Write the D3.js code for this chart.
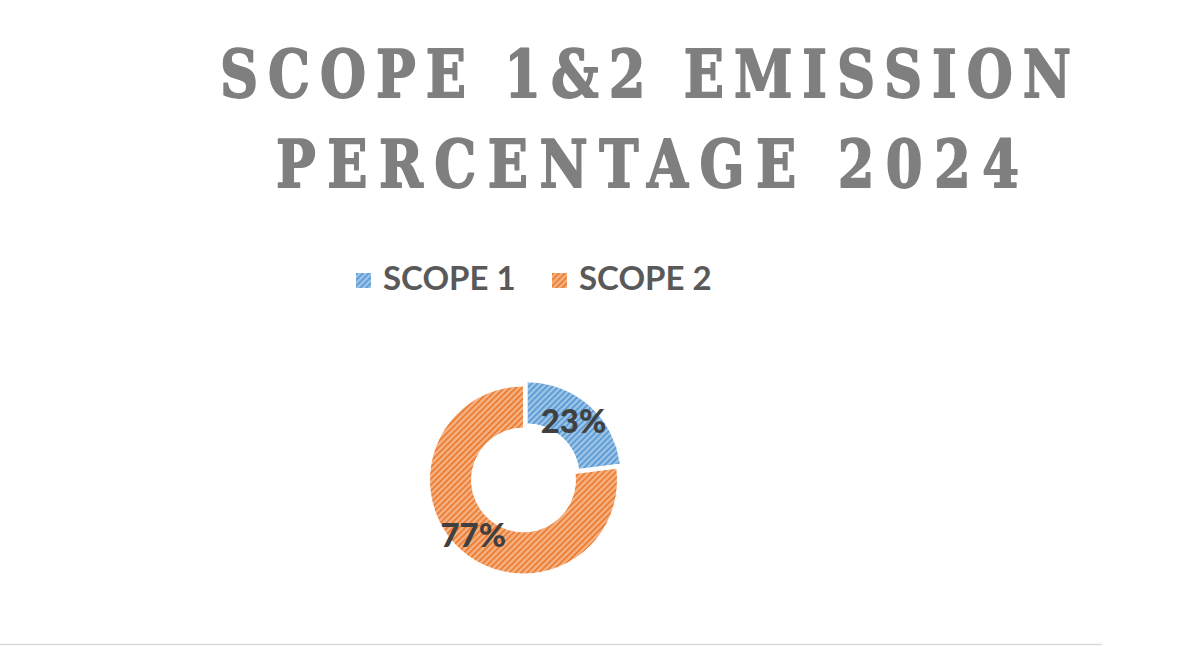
<!DOCTYPE html>
<html>
<head>
<meta charset="utf-8">
<script src="https://cdn.jsdelivr.net/npm/d3@7"></script>
<style>
  body { margin: 0; background: #fff; }
  svg { display: block; }
</style>
</head>
<body>
<svg id="chart" width="1200" height="646"></svg>
<script>
// chart values
const categories = ["SCOPE 1", "SCOPE 2"];
const shares = [23, 77];
const sliceColors = ["#5B9BD5", "#ED7D31"];
const titleLines = ["SCOPE 1&2 EMISSION", "PERCENTAGE 2024"];

const width = 1200, height = 646;
const cx = 523.5, cy = 480;
const outerR = 94, innerR = 52;
const explode = [5.5, 0]; // blue slice pulled out a bit

const svg = d3.select("#chart");
const defs = svg.append("defs");

// diagonal hatch pattern per slice
sliceColors.forEach((c, i) => {
    const p = defs.append("pattern")
        .attr("id", "hatch" + i)
        .attr("patternUnits", "userSpaceOnUse")
        .attr("width", 4.2)
        .attr("height", 4.2)
        .attr("patternTransform", "rotate(45)");
    p.append("rect")
        .attr("width", 4.2).attr("height", 4.2)
        .attr("fill", d3.interpolateRgb(c, "#fff")(0.4));
    p.append("rect")
        .attr("width", 1.8).attr("height", 4.2)
        .attr("fill", c);
});

// title - narrow heavy serif, so squeeze it and thicken with a stroke
const squeeze = 0.8;
const titleBase = [97, 187];
const titleX = [[220, 1071], [276, 1019]];
svg.selectAll(".title")
    .data(titleLines)
    .enter()
    .append("text")
    .attr("class", "title")
    .attr("transform", `scale(${squeeze},1)`)
    .attr("x", (d, i) => titleX[i][0] / squeeze)
    .attr("y", (d, i) => titleBase[i])
    .attr("textLength", (d, i) => (titleX[i][1] - titleX[i][0]) / squeeze)
    .attr("lengthAdjust", "spacing")
    .attr("font-family", "'DejaVu Serif', serif")
    .attr("font-weight", "bold")
    .attr("font-size", 66)
    .attr("fill", "#7f7f7f")
    .attr("stroke", "#7f7f7f")
    .attr("stroke-width", 1.8)
    .attr("stroke-linejoin", "round")
    .text(d => d);

// legend
const legendX = [356, 552];
const legend = svg.selectAll(".legend")
    .data(categories)
    .enter()
    .append("g")
    .attr("class", "legend")
    .attr("transform", (d, i) => `translate(${legendX[i]},273)`);
legend.append("rect")
    .attr("width", 15).attr("height", 15)
    .attr("fill", (d, i) => `url(#hatch${i})`);
legend.append("text")
    .attr("x", 27)
    .attr("y", 17)
    .attr("font-family", "Lato, 'Open Sans', sans-serif")
    .attr("font-weight", "bold")
    .attr("font-size", 33)
    .attr("fill", "#595959")
    .text(d => d);

// donut
const pie = d3.pie().sort(null).value(d => d);
const arc = d3.arc().innerRadius(innerR).outerRadius(outerR);

const slices = svg.append("g")
    .attr("transform", `translate(${cx},${cy})`)
    .selectAll(".slice")
    .data(pie(shares))
    .enter()
    .append("g")
    .attr("class", "slice")
    .attr("transform", (d, i) => {
        const mid = (d.startAngle + d.endAngle) / 2;
        return `translate(${Math.sin(mid) * explode[i]},${-Math.cos(mid) * explode[i]})`;
    });

slices.append("path")
    .attr("d", arc)
    .attr("fill", (d, i) => `url(#hatch${i})`)
    .attr("stroke", "#fff")
    .attr("stroke-width", 1);

slices.append("text")
    .attr("transform", d => `translate(${arc.centroid(d)})`)
    .attr("x", -2)
    .attr("text-anchor", "middle")
    .attr("dy", "0.36em")
    .attr("font-family", "Lato, 'Open Sans', sans-serif")
    .attr("font-weight", "900")
    .attr("font-size", 33)
    .attr("fill", "#404040")
    .text(d => d.data + "%");

// bottom rule
svg.append("line")
    .attr("x1", 0).attr("x2", 1102)
    .attr("y1", 644.5).attr("y2", 644.5)
    .attr("stroke", "#d9d9d9")
    .attr("stroke-width", 1.5);
</script>
</body>
</html>
